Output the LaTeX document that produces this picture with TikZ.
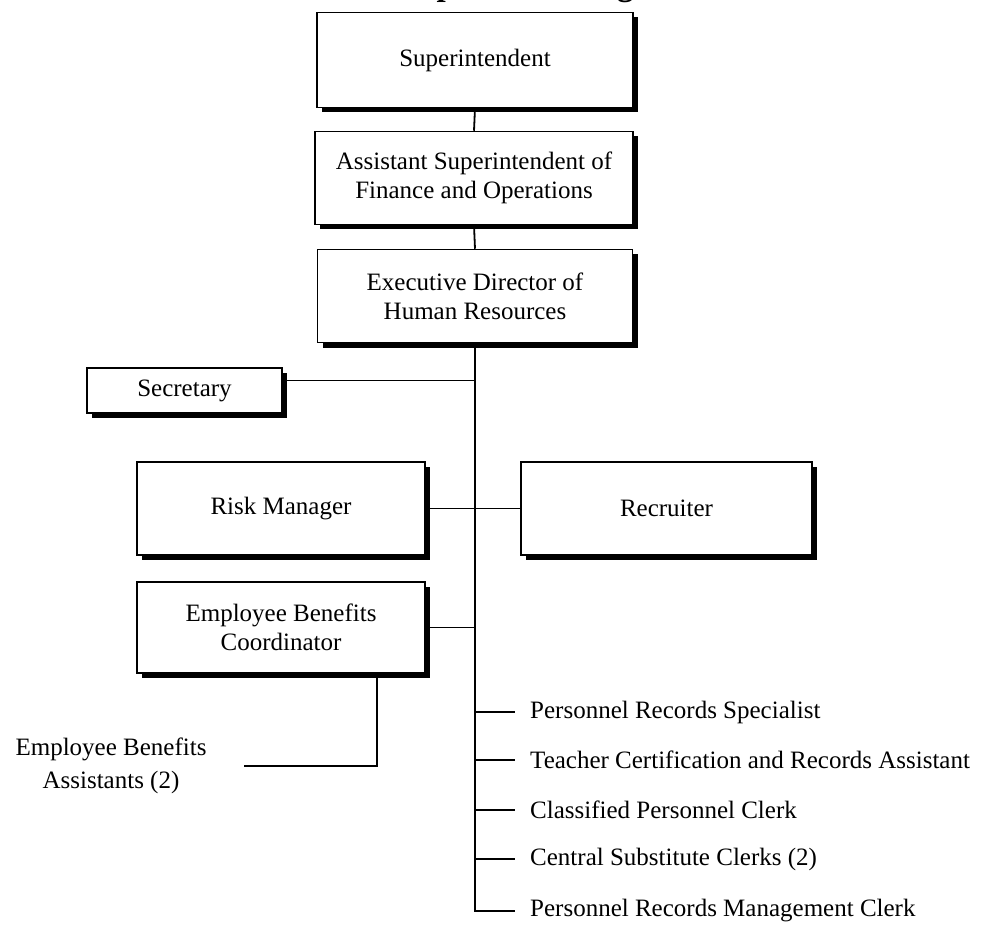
\documentclass[tikz,border=0pt]{standalone}
\usepackage{fontspec}
\setmainfont{Liberation Serif}
\usetikzlibrary{shadows}
\tikzset{
  box/.style={draw, line width=1.5pt, fill=white,
    general shadow={fill=black, shadow xshift=5pt, shadow yshift=-5pt},
    align=center, inner sep=0pt, font=\fontsize{25}{29}\selectfont},
  item/.style={anchor=west, inner sep=0pt, font=\fontsize{25}{29}\selectfont},
  link/.style={line width=1.8pt, black}
}
\begin{document}
\begin{tikzpicture}[x=1pt,y=-1pt]
\useasboundingbox (0,0) rectangle (996,925);
\fill[white] (0,0) rectangle (996,925);

% heading, above the page edge apart from its descenders
\node[anchor=base west, inner sep=0pt, font=\bfseries\fontsize{33}{33}\selectfont] (title) at (398,-4.5) {Department Organization};

% management chain
\node[box, minimum width=316pt, minimum height=95pt] (sup) at (475,60) {Superintendent};
\node[box, minimum width=318pt, minimum height=93pt] (asst) at (474,178) {Assistant Superintendent of\\Finance and Operations};
\node[box, minimum width=315pt, minimum height=93pt] (exec) at (475,296) {Executive Director of\\Human Resources};

% staff boxes
\node[box, minimum width=195pt, minimum height=45pt] (sec) at (184.5,390.5) {Secretary};
\node[box, minimum width=288pt, minimum height=93pt] (risk) at (281,508.5) {Risk Manager};
\node[box, minimum width=291pt, minimum height=93pt] (recr) at (666.5,508.5) {Recruiter};
\node[box, minimum width=288pt, minimum height=91pt] (ebc) at (281,627.5) {Employee Benefits\\Coordinator};

% unboxed positions
\node[align=center, inner sep=0pt, font=\fontsize{25}{33}\selectfont] (ebas) at (111,766) {Employee Benefits\\Assistants (2)};
\node[item] (li1) at (530,712) {Personnel Records Specialist};
\node[item] (li2) at (530,760) {Teacher Certification and Records Assistant};
\node[item] (li3) at (530,810) {Classified Personnel Clerk};
\node[item] (li4) at (530,859) {Central Substitute Clerks (2)};
\node[item] (li5) at (530,911) {Personnel Records Management Clerk};

% connectors
\draw[link] (sup.south) -- (asst.north);
\draw[link] (asst.south) -- (exec.north);
\draw[link] (exec.south) |- ([xshift=-15pt]li5.west);
\draw[link] ([yshift=10pt]sec.east) -- ([yshift=10pt]sec.east -| exec.south);
\draw[link] (risk.east) -- (recr.west);
\draw[link] (ebc.east) -- (ebc.east -| exec.south);
\draw[link] ([xshift=96pt]ebc.south) |- ([xshift=37pt]ebas.east);
\foreach \i in {1,2,3,4}
  \draw[link] (li\i.west -| exec.south) -- ([xshift=-15pt]li\i.west);
\end{tikzpicture}
\end{document}
